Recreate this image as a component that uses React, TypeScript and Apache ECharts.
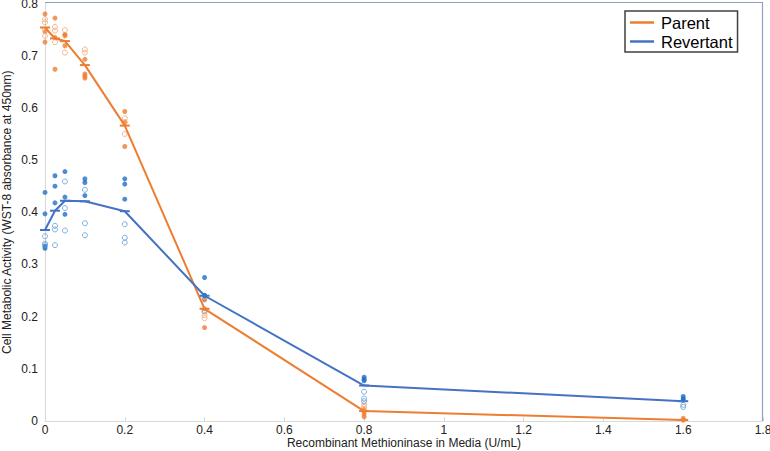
import React, { useEffect, useRef } from "react";
import * as echarts from "echarts";

const doses = [0, 0.025, 0.05, 0.1, 0.2, 0.4, 0.8, 1.6];
const parentMean = [0.754, 0.733, 0.728, 0.682, 0.566, 0.215, 0.019, 0.002];
const revertantMean = [0.366, 0.403, 0.422, 0.421, 0.402, 0.24, 0.068, 0.038];

const parentFilled = [
  [0.78, 0.746, 0.726],
  [0.772, 0.735, 0.674],
  [0.741, 0.738, 0.719],
  [0.693, 0.665, 0.661, 0.657],
  [0.593, 0.572, 0.526],
  [0.232, 0.215, 0.179],
  [0.022, 0.018, 0.013, 0.008],
  [0.005, 0.003, 0.002],
];
const parentOpen = [
  [0.77, 0.764, 0.75, 0.738],
  [0.755, 0.748, 0.726],
  [0.749, 0.706],
  [0.712, 0.706],
  [0.58, 0.573, 0.55],
  [0.209, 0.203, 0.197],
  [0.032, 0.027],
  [0.002],
];
const revertantFilled = [
  [0.438, 0.397, 0.335, 0.331],
  [0.47, 0.45, 0.418],
  [0.478, 0.429, 0.396],
  [0.464, 0.457, 0.432],
  [0.464, 0.454, 0.425],
  [0.275, 0.241, 0.24],
  [0.084, 0.08, 0.077],
  [0.047, 0.043, 0.04],
];
const revertantOpen = [
  [0.354, 0.34, 0.337],
  [0.374, 0.367, 0.337],
  [0.459, 0.408, 0.365],
  [0.443, 0.379, 0.356],
  [0.377, 0.351, 0.342],
  [0.235, 0.211],
  [0.056, 0.043, 0.038],
  [0.031, 0.027],
];

const xTicks = { min: 0, max: 1.8, interval: 0.2 };
const yTicks = { min: 0, max: 0.8, interval: 0.1 };

const pairs = (reps: number[][]) =>
  reps.flatMap((vals, i) => vals.map((v) => [doses[i], v]));
const meanPairs = (m: number[]) => m.map((v, i) => [doses[i], v]);

const FONT = "Liberation Sans, Arial, sans-serif";
const ORANGE = "#ED7D31";
const ORANGE_LIGHT = "#F4A46C";
const BLUE_LINE = "#4472C4";
const BLUE_DOT = "#1F6FC4";
const BLUE_LIGHT = "#5B9BD5";

export default function App() {
  const ref = useRef<HTMLDivElement>(null);
  useEffect(() => {
    if (!ref.current) return;
    const chart = echarts.init(ref.current, undefined, { renderer: "svg" });
    const gridLeft = 45;
    const gridTop = 3.5;
    const gridRight = 7;
    const gridBottom = 30;
    chart.setOption({
      animation: false,
      backgroundColor: "#ffffff",
      grid: {
        left: gridLeft,
        top: gridTop,
        right: gridRight,
        bottom: gridBottom,
        containLabel: false,
        outerBoundsMode: "none",
      },
      graphic: [
        {
          type: "polyline",
          shape: {
            points: [
              [gridLeft, 2.5],
              [770 - gridRight - 0.5, 2.5],
              [770 - gridRight - 0.5, 451 - gridBottom],
            ],
          },
          style: { stroke: "#8EA1BE", lineWidth: 1.2, fill: "none" },
          z: 1,
        },
      ],
      legend: {
        orient: "vertical",
        left: 625,
        top: 11,
        padding: [3, 5, 2, 5],
        itemGap: 2,
        itemWidth: 24,
        itemHeight: 2.5,
        icon: "rect",
        borderColor: "#404040",
        borderWidth: 1.5,
        backgroundColor: "#ffffff",
        textStyle: { fontFamily: FONT, fontSize: 16.5, color: "#000000", padding: [0, 0, 0, 2] },
        data: ["Parent", "Revertant"],
      },
      xAxis: {
        type: "value",
        min: xTicks.min,
        max: xTicks.max,
        interval: xTicks.interval,
        name: "Recombinant Methioninase in Media (U/mL)",
        nameLocation: "middle",
        nameGap: 16,
        nameMoveOverlap: false,
        nameTextStyle: { fontFamily: FONT, fontSize: 12, lineHeight: 12, color: "#222222" },
        axisLine: { show: true, lineStyle: { color: "#D9D9D9", width: 1 } },
        axisTick: { show: true, inside: true, length: 4, lineStyle: { color: "#D9D9D9" } },
        axisLabel: { fontFamily: FONT, fontSize: 12, lineHeight: 12, color: "#222222", margin: 3 },
        splitLine: { show: false },
      },
      yAxis: {
        type: "value",
        min: yTicks.min,
        max: yTicks.max,
        interval: yTicks.interval,
        name: "Cell Metabolic Activity (WST-8 absorbance at 450nm)",
        nameLocation: "middle",
        nameGap: 32,
        nameMoveOverlap: false,
        nameTextStyle: { fontFamily: FONT, fontSize: 12, color: "#222222" },
        axisLine: { show: true, lineStyle: { color: "#D9D9D9", width: 1 } },
        axisTick: { show: false },
        axisLabel: { fontFamily: FONT, fontSize: 12, color: "#222222", margin: 7 },
        splitLine: { show: false },
      },
      series: [
        {
          name: "Parent replicate A",
          type: "scatter",
          data: pairs(parentFilled),
          symbol: "circle",
          symbolSize: 5,
          itemStyle: { color: ORANGE },
          z: 2,
        },
        {
          name: "Parent replicate B",
          type: "scatter",
          data: pairs(parentOpen),
          symbol: "circle",
          symbolSize: 5,
          itemStyle: { color: "rgba(255,255,255,0)", borderColor: ORANGE_LIGHT, borderWidth: 1 },
          z: 2,
        },
        {
          name: "Revertant replicate A",
          type: "scatter",
          data: pairs(revertantFilled),
          symbol: "circle",
          symbolSize: 5,
          itemStyle: { color: BLUE_DOT },
          z: 2,
        },
        {
          name: "Revertant replicate B",
          type: "scatter",
          data: pairs(revertantOpen),
          symbol: "circle",
          symbolSize: 5,
          itemStyle: { color: "rgba(255,255,255,0)", borderColor: BLUE_LIGHT, borderWidth: 1 },
          z: 2,
        },
        {
          name: "Parent",
          type: "line",
          data: meanPairs(parentMean),
          symbol: "rect",
          symbolSize: [10, 2],
          showSymbol: true,
          clip: false,
          lineStyle: { color: ORANGE, width: 2 },
          itemStyle: { color: ORANGE },
          z: 3,
        },
        {
          name: "Revertant",
          type: "line",
          data: meanPairs(revertantMean),
          symbol: "rect",
          symbolSize: [10, 2],
          showSymbol: true,
          clip: false,
          lineStyle: { color: BLUE_LINE, width: 2 },
          itemStyle: { color: BLUE_LINE },
          z: 3,
        },
      ],
    });
    return () => chart.dispose();
  }, []);
  return (
    <div
      ref={ref}
      style={{ position: "fixed", left: 0, top: 0, width: 770, height: 451 }}
    />
  );
}
